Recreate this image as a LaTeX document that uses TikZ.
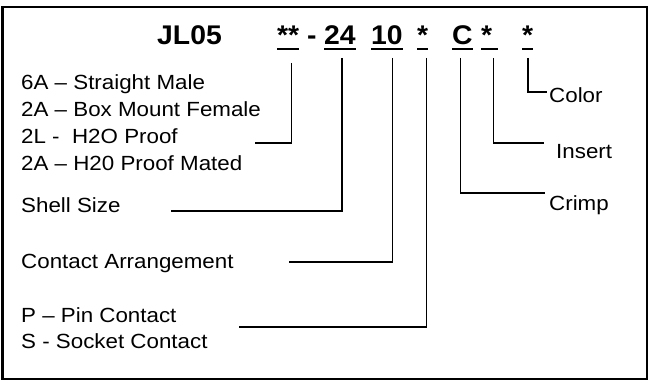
\documentclass[tikz,border=0pt]{standalone}
\usepackage{fontspec}
\setmainfont[FakeStretch=1.09]{Liberation Sans}
\newfontfamily\codefont[FakeStretch=1.05]{Liberation Sans}
\usetikzlibrary{positioning}

\begin{document}
\begin{tikzpicture}[x=1pt, y=-1pt, font=\fontsize{20.5}{24}\selectfont,
    lbl/.style={anchor=base west, inner sep=0pt},
    code/.style={anchor=base west, inner sep=0pt, font=\codefont\bfseries\fontsize{27}{32}\selectfont},
    uline/.style={line width=1.6pt},
    conn/.style={line width=1.6pt}]
    \useasboundingbox (0,0) rectangle (656,385);
    \draw[line width=2.4pt] (2.5,7) rectangle (647,379);

    \node[code] (jl05) at (157,45) {JL05};
    \node[code] (cstar) at (277,45) {**};
    \node[code] (cdash) at (307,45) {-};
    \node[code] (c24) at (324,45) {24};
    \node[code] (c10) at (371,45) {10};
    \node[code] (cpin) at (417,45) {*};
    \node[code] (ccrimp) at (452,45) {C};
    \node[code] (cins) at (481,45) {*};
    \node[code] (ccol) at (522,45) {*};
    \foreach \c in {cstar,c24,c10,cpin,ccrimp,ccol}
      \draw[uline] ([yshift=-4pt]\c.base west) -- ([yshift=-4pt]\c.base east);
    \draw[uline] ([yshift=-4pt]cins.base west) -- ([xshift=6pt,yshift=-4pt]cins.base east);

    \node[lbl] (m6a) at (21,90) {6A -- Straight Male};
    \node[lbl] (f2a) at (21,117) {2A -- Box Mount Female};
    \node[lbl] (p2l) at (21,144) {2L - \ H2O Proof};
    \node[lbl] (m2a) at (21,171) {2A -- H20 Proof Mated};
    \node[lbl] (shell) at (21,212) {Shell Size};
    \node[lbl] (contact) at (21,268) {Contact Arrangement};
    \node[lbl] (pin) at (21,322) {P -- Pin Contact};
    \node[lbl] (socket) at (21,348) {S - Socket Contact};
    \node[lbl] (color) at (549,103) {Color};
    \node[lbl] (insert) at (556,158) {Insert};
    \node[lbl] (crimp) at (549,210) {Crimp};

    \draw[conn] ([xshift=-8pt,yshift=-18pt]cstar.base east) |- ([xshift=77pt,yshift=1pt]p2l.base east);
    \draw[conn] ([xshift=2pt,yshift=-13pt]c24.base) |- ([xshift=50pt,yshift=1pt]shell.base east);
    \draw[conn] ([xshift=-10.5pt,yshift=-13pt]c10.base east) |- ([xshift=55pt,yshift=6pt]contact.base east);
    \draw[conn] ([xshift=-2pt,yshift=-13pt]cpin.base east) |- ([xshift=62pt,yshift=-5pt]pin.base east);
    \draw[conn] ([xshift=-2pt,yshift=-13pt]ccrimp.base) |- ([xshift=-4pt,yshift=17pt]crimp.base west);
    \draw[conn] ([xshift=1pt,yshift=-13pt]cins.base east) |- ([xshift=-12pt,yshift=15pt]insert.base west);
    \draw[conn] ([yshift=-13pt]ccol.base) |- ([xshift=-2pt,yshift=11pt]color.base west);
\end{tikzpicture}
\end{document}
